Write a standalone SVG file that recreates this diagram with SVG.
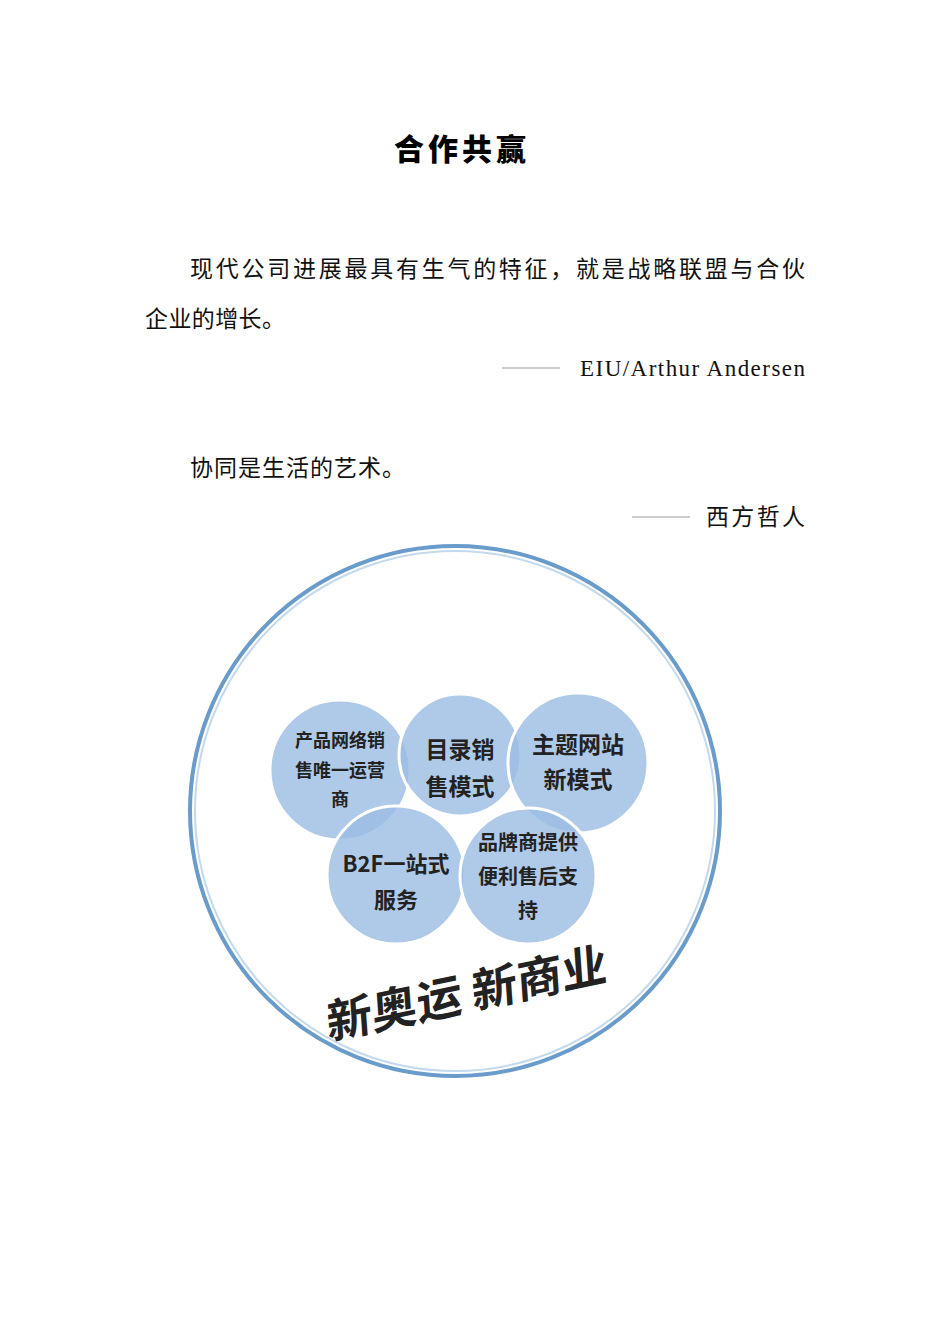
<svg xmlns="http://www.w3.org/2000/svg" width="950" height="1344" viewBox="0 0 950 1344">
<style>
.b{font-family:"Liberation Serif","Noto Sans CJK SC",serif;font-size:23px;fill:#111}
.c{fill:#9bbde2;fill-opacity:0.8;stroke:#fff;stroke-width:3}
.t{font-family:"Noto Sans CJK SC",sans-serif;font-weight:bold;fill:#222;text-anchor:middle}
</style>
<rect width="950" height="1344" fill="#fff"/>
<text x="462" y="160" text-anchor="middle" font-family="Noto Sans CJK SC,sans-serif" font-weight="900" font-size="30" letter-spacing="4">合作共赢</text>
<text class="b" x="190" y="277" textLength="615" lengthAdjust="spacing">现代公司进展最具有生气的特征，就是战略联盟与合伙</text>
<text class="b" x="145" y="327" textLength="140" lengthAdjust="spacing">企业的增长。</text>
<line x1="502" y1="368" x2="560" y2="368" stroke="#999"/>
<text class="b" x="580" y="376" textLength="225" lengthAdjust="spacing">EIU/Arthur  Andersen</text>
<text class="b" x="190" y="476" textLength="215" lengthAdjust="spacing">协同是生活的艺术。</text>
<line x1="632" y1="517" x2="690" y2="517" stroke="#999"/>
<text class="b" x="706" y="525" textLength="99" lengthAdjust="spacing">西方哲人</text>
<g id="outer"><circle cx="455" cy="811" r="265" fill="#fff" stroke="#6a9ccb" stroke-width="4"/><circle cx="455" cy="811" r="260" fill="none" stroke="#c3d9ee" stroke-width="2"/></g>
<g id="n1"><circle class="c" cx="340" cy="770" r="70"/><text class="t" font-size="18"><tspan x="340" y="747">产品网络销</tspan><tspan x="340" y="777">售唯一运营</tspan><tspan x="340" y="806">商</tspan></text></g>
<g id="n2"><circle class="c" cx="460" cy="755" r="61"/><text class="t" font-size="23"><tspan x="460" y="758">目录销</tspan><tspan x="460" y="795">售模式</tspan></text></g>
<g id="n3"><circle class="c" cx="578" cy="763" r="70"/><text class="t" font-size="23"><tspan x="578" y="753">主题网站</tspan><tspan x="578" y="788">新模式</tspan></text></g>
<g id="n4"><circle class="c" cx="396" cy="875" r="69"/><text class="t" font-size="22"><tspan x="396" y="872">B2F一站式</tspan><tspan x="396" y="908">服务</tspan></text></g>
<g id="n5"><circle class="c" cx="528" cy="876" r="68"/><text class="t" font-size="20"><tspan x="528" y="850">品牌商提供</tspan><tspan x="528" y="884">便利售后支</tspan><tspan x="528" y="918">持</tspan></text></g>
<text transform="translate(468 1010) rotate(-12) skewX(-8)" class="t" font-size="46" font-weight="900" fill="#111">新奥运 新商业</text>
</svg>
